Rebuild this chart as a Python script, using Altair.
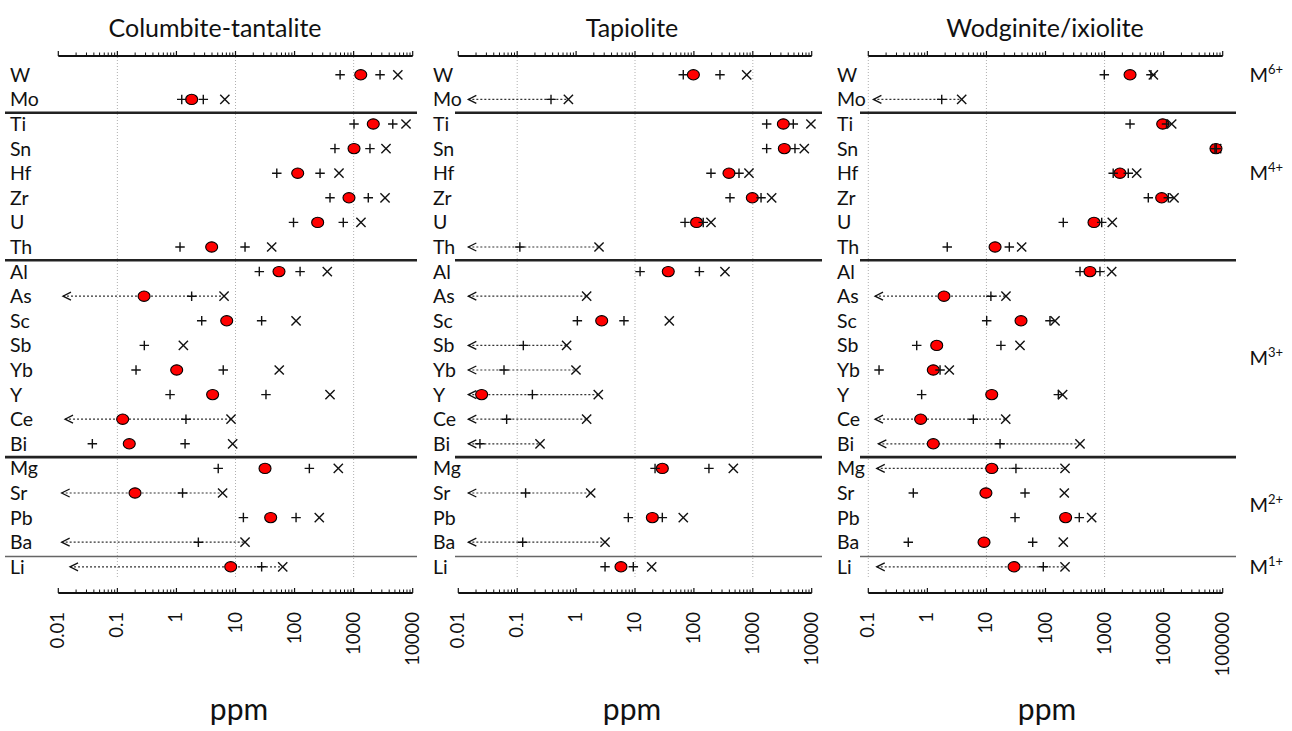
import altair as alt
import pandas as pd

ELEMENTS = ["W", "Mo", "Ti", "Sn", "Hf", "Zr", "U", "Th", "Al", "As", "Sc",
            "Sb", "Yb", "Y", "Ce", "Bi", "Mg", "Sr", "Pb", "Ba", "Li"]

# --- Columbite-tantalite (ppm) ---
CT_LOW = [590, 1.23, 1015, 483, 50, 398, 96, 1.15, 25.3, None, 2.68,
          0.286, 0.207, 0.78, None, 0.0377, 5.1, None, 13.6, None, None]
CT_MED = [1320, 1.81, 2150, 1015, 113, 834, 246, 3.95, 54.5, 0.283, 7.1,
          None, 1.01, 4.1, 0.123, 0.159, 31.6, 0.199, 39.4, None, 8.3]
CT_HIGH = [2800, 2.85, 4600, 1890, 270, 1770, 668, 14.5, 124, 1.81, 27.7,
           None, 6.2, 32.8, 1.45, 1.40, 178, 1.27, 106, 2.35, 27.7]
CT_MAX = [5600, 6.6, 7700, 3530, 565, 3400, 1330, 41, 358, 6.4, 106,
          1.31, 55, 398, 8.4, 8.95, 550, 6.05, 262, 14.5, 63]
CT_BDL = [None, None, None, None, None, None, None, None, None, 0.012, None,
          None, None, None, 0.013, None, None, 0.0114, None, 0.0114, 0.0158]

# --- Tapiolite (ppm) ---
TP_LOW = [66, None, 1720, 1720, 195, 410, 70.6, None, 12.2, None, 1.05,
          None, None, None, None, None, 21.9, None, 7.7, None, 3.1]
TP_MED = [98, None, 3300, 3430, 394, 981, 111, None, 36.7, None, 2.72,
          None, None, 0.0249, None, None, 29.1, None, 19.7, None, 5.78]
TP_HIGH = [277, 0.375, 4870, 5200, 583, 1380, 144, 0.111, 124, None, 6.5,
           0.127, 0.0597, 0.181, 0.0662, 0.0233, 180, 0.139, 29.1, 0.124, 9.36]
TP_MAX = [788, 0.74, 9700, 7480, 861, 2090, 195, 2.45, 337, 1.51, 38.2,
          0.69, 0.995, 2.38, 1.51, 0.244, 467, 1.77, 66, 3.1, 19.2]
TP_BDL = [None, 0.0148, None, None, None, None, None, 0.0148, None, 0.0148, None,
          0.0148, 0.0148, 0.0148, 0.0148, 0.0148, None, 0.0148, None, 0.0148, None]

# --- Wodginite/ixiolite (ppm) ---
WD_LOW = [990, None, 2700, 74000, 1400, 5500, 200, 2.17, 384, None, 10.1,
          0.66, 0.152, 0.80, None, None, None, 0.578, 30.5, 0.475, None]
WD_MED = [2700, None, 9640, 76900, 1820, 9270, 662, 14, 566, 1.91, 38.5,
          1.44, 1.26, 12.3, 0.77, 1.26, 12.3, 9.8, 219, 9.1, 29.3]
WD_HIGH = [6100, 1.75, 11200, 78000, 2520, 12000, 894, 24.4, 836, 11.9, 119,
           17.6, 1.64, 165, 6.0, 17, 31.6, 45, 373, 60.7, 91.8]
WD_MAX = [6700, 3.81, 13700, 79000, 3500, 15000, 1350, 39.5, 1320, 21.4, 145,
          37, 2.35, 195, 21.2, 384, 214, 208, 605, 200, 214]
WD_BDL = [None, 0.122, None, None, None, None, None, None, None, 0.13, None,
          None, None, None, 0.13, 0.148, 0.139, None, None, None, 0.139]

# axis labels
LABELS_A = ["0.01", "0.1", "1", "10", "100", "1000", "10000"]
LABELS_B = ["0.1", "1", "10", "100", "1000", "10000", "100000"]

# valence groups on the right
GROUP_MAIN = ["M", "M", "M", "M", "M"]
GROUP_SUP = ["6+", "4+", "3+", "2+", "1+"]
GROUP_ROW = ["W", "Hf", "Yb", "Pb", "Li"]
GROUP_EDGE = [False, False, True, True, False]

FONT = "Lato"
INK = "#111111"

Y_SCALE = alt.Scale(type="band", domain=ELEMENTS, range=[62.5, 579.1],
                    paddingInner=0, paddingOuter=0)


def y_enc(**kw):
    return alt.Y("el:N", scale=Y_SCALE, axis=None, **kw)


def frame(values):
    return pd.DataFrame([{"el": e, "v": v} for e, v in zip(ELEMENTS, values) if v is not None])


def panel(low, med, high, mx, bdl, labels, rng, sep, label_x, title, title_x, unit_x):
    vals = [float(s) for s in labels]
    xs = alt.Scale(type="log", domain=[vals[0], vals[-1]], range=rng)

    def X(field):
        return alt.X(f"{field}:Q", scale=xs, axis=None)

    minor = [m * v for v in vals[:-1] for m in range(2, 10)]
    grid = [v for v in vals if v in (0.1, 10.0, 1000.0)]

    layers = []
    # dotted grid
    layers.append(alt.Chart(pd.DataFrame({"g": grid})).mark_rule(
        color="#b0b0b0", strokeDash=[1, 2], strokeWidth=1).encode(
        x=X("g"), y=alt.value(57), y2=alt.value(579)))
    # top and bottom axis lines with inward ticks
    span = pd.DataFrame({"a": [vals[0]], "b": [vals[-1]]})
    for ybase in (56, 593):
        layers.append(alt.Chart(span).mark_rule(color=INK, strokeWidth=2).encode(
            x=X("a"), x2=alt.X2("b"), y=alt.value(ybase)))
        layers.append(alt.Chart(pd.DataFrame({"t": vals})).mark_rule(
            color=INK, strokeWidth=1.2).encode(
            x=X("t"), y=alt.value(ybase - 5), y2=alt.value(ybase)))
        layers.append(alt.Chart(pd.DataFrame({"t": minor})).mark_rule(
            color=INK, strokeWidth=1).encode(
            x=X("t"), y=alt.value(ybase - 3.5), y2=alt.value(ybase)))
    # tick labels
    layers.append(alt.Chart(pd.DataFrame({"t": vals, "lab": labels})).mark_text(
        angle=270, align="right", baseline="middle", font=FONT, fontSize=18.5,
        color=INK).encode(x=X("t"), y=alt.value(612), text="lab:N"))
    # group separators
    layers.append(alt.Chart(pd.DataFrame({"el": ["Ti", "Al", "Mg"]})).mark_rule(
        color="#222222", strokeWidth=2.6).encode(
        y=y_enc(bandPosition=0), yOffset=alt.value(1),
        x=alt.value(sep[0]), x2=alt.value(sep[1])))
    layers.append(alt.Chart(pd.DataFrame({"el": ["Li"]})).mark_rule(
        color="#666666", strokeWidth=1.6).encode(
        y=y_enc(bandPosition=0), yOffset=alt.value(2),
        x=alt.value(sep[0]), x2=alt.value(sep[1])))
    # below-detection ranges
    rng_rows = pd.DataFrame([{"el": e, "tip": b, "end": m}
                             for e, b, m in zip(ELEMENTS, bdl, mx) if b is not None])
    if len(rng_rows):
        layers.append(alt.Chart(rng_rows).mark_rule(
            color="#333333", strokeDash=[2, 2], strokeWidth=1.2).encode(
            y=y_enc(), x=X("tip"), x2=alt.X2("end")))
        layers.append(alt.Chart(rng_rows).mark_point(
            shape="M2,-1L0,0L2,1", filled=False, size=64, strokeWidth=1.3,
            color=INK, opacity=1).encode(y=y_enc(), x=X("tip")))
    # maxima
    layers.append(alt.Chart(frame(mx)).mark_point(
        shape="M-1,-1L1,1M-1,1L1,-1", filled=False, size=85, strokeWidth=1.4,
        color=INK, opacity=1).encode(y=y_enc(), x=X("v")))
    # medians
    med_df = frame(med)
    layers.append(alt.Chart(med_df).mark_point(
        shape="M-1,0A1,0.86,0,1,1,1,0A1,0.86,0,1,1,-1,0Z", filled=True,
        fill="#ff0000", stroke="#000000", strokeWidth=1.1, size=144,
        opacity=1).encode(y=y_enc(), x=X("v")))
    # quartile-style crosses
    plus = pd.concat([frame(low), frame(high)], ignore_index=True)
    layers.append(alt.Chart(plus).mark_point(
        shape="M-1,0L1,0M0,-1L0,1", filled=False, size=90, strokeWidth=1.4,
        color=INK, opacity=1).encode(y=y_enc(), x=X("v")))
    # element names
    layers.append(alt.Chart(pd.DataFrame({"el": ELEMENTS})).mark_text(
        align="left", baseline="middle", font=FONT, fontSize=19.5, color=INK,
        dy=1).encode(y=y_enc(), x=alt.value(label_x), text="el:N"))
    # heading and unit
    layers.append(alt.Chart(pd.DataFrame({"t": [title]})).mark_text(
        align="center", baseline="alphabetic", font=FONT, fontSize=25,
        color=INK).encode(x=alt.value(title_x), y=alt.value(37), text="t:N"))
    layers.append(alt.Chart(pd.DataFrame({"t": ["ppm"]})).mark_text(
        align="center", baseline="alphabetic", font=FONT, fontSize=30,
        color=INK).encode(x=alt.value(unit_x), y=alt.value(720), text="t:N"))
    return alt.layer(*layers)


p1 = panel(CT_LOW, CT_MED, CT_HIGH, CT_MAX, CT_BDL, LABELS_A, [58.3, 412.7],
           (5, 417), 10, "Columbite-tantalite", 215, 239)
p2 = panel(TP_LOW, TP_MED, TP_HIGH, TP_MAX, TP_BDL, LABELS_A, [458.3, 811.7],
           (455, 822), 433, "Tapiolite", 632, 632)
p3 = panel(WD_LOW, WD_MED, WD_HIGH, WD_MAX, WD_BDL, LABELS_B, [868.3, 1222.7],
           (860, 1236), 837, "Wodginite/ixiolite", 1045, 1047)

groups = pd.DataFrame({"el": GROUP_ROW, "m": GROUP_MAIN, "s": GROUP_SUP, "edge": GROUP_EDGE})
centre = groups[~groups["edge"]]
edge = groups[groups["edge"]]
group_layers = []
for sub, bp in ((centre, 0.5), (edge, 0.0)):
    group_layers.append(alt.Chart(sub).mark_text(
        align="right", baseline="middle", font=FONT, fontSize=20, color=INK, dy=1).encode(
        y=y_enc(bandPosition=bp), x=alt.value(1268), text="m:N"))
    group_layers.append(alt.Chart(sub).mark_text(
        align="left", baseline="middle", font=FONT, fontSize=13, color=INK, dy=-5).encode(
        y=y_enc(bandPosition=bp), x=alt.value(1268), text="s:N"))

chart = alt.layer(p1, p2, p3, *group_layers).resolve_scale(x="independent").properties(
    width=1292, height=731, padding=0,
    autosize=alt.AutoSizeParams(type="none"),
    background="white",
).configure_view(strokeWidth=0)

chart.save("out.html", embed_options={"renderer": "svg", "actions": False})
